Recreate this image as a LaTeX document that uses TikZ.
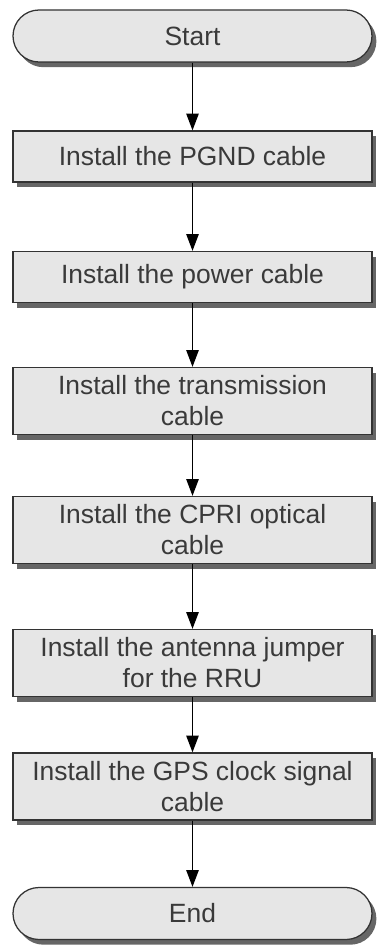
\documentclass[tikz,border=0pt]{standalone}
\usepackage{fontspec}
\setmainfont{Liberation Sans}
\usepackage{xcolor}
\usepackage{tikz}
\usetikzlibrary{arrows.meta, shadows}
\definecolor{boxfill}{HTML}{E6E6E6}
\definecolor{boxline}{HTML}{333333}
\definecolor{boxtext}{HTML}{3A3A3A}
\tikzset{
  stepbox/.style={rectangle, draw=boxline, line width=0.9pt, fill=boxfill, minimum width=89.75mm, minimum height=12.75mm, align=center, text=boxtext, font=\fontsize{18.8}{22}\selectfont, drop shadow={shadow xshift=1.1mm, shadow yshift=-1.3mm, fill=black!60, opacity=1}},
  tallbox/.style={stepbox, minimum height=16.75mm},
  termbox/.style={stepbox, rounded corners=6.5mm, minimum height=13mm},
  arrow/.style={-{Triangle[length=4.2mm, width=3.1mm]}, line width=1pt, black},
}
\begin{document}
\begin{tikzpicture}[x=0.25mm, y=-0.25mm]
  \useasboundingbox (0,0) rectangle (377,945);
  % Terminals and steps
  \node[termbox] (start) at (192.5, 36) {Start};
  \node[stepbox] (pgnd)  at (192.5, 156.5) {Install the PGND cable};
  \node[stepbox] (power) at (192.5, 277) {Install the power cable};
  \node[tallbox] (trans) at (192.5, 401) {Install the transmission\\cable};
  \node[tallbox] (cpri)  at (192.5, 530) {Install the CPRI optical\\cable};
  \node[tallbox] (ant)   at (192.5, 663) {Install the antenna jumper\\for the RRU};
  \node[tallbox] (gps)   at (192.5, 786.5) {Install the GPS clock signal\\cable};
  \node[termbox] (end)   at (192.5, 913.5) {End};

  % Connections
  \foreach \a/\b in {start/pgnd, pgnd/power, power/trans, trans/cpri, cpri/ant, ant/gps, gps/end} {
    \draw[arrow] (\a) -- (\b);
  }
\end{tikzpicture}
\end{document}
